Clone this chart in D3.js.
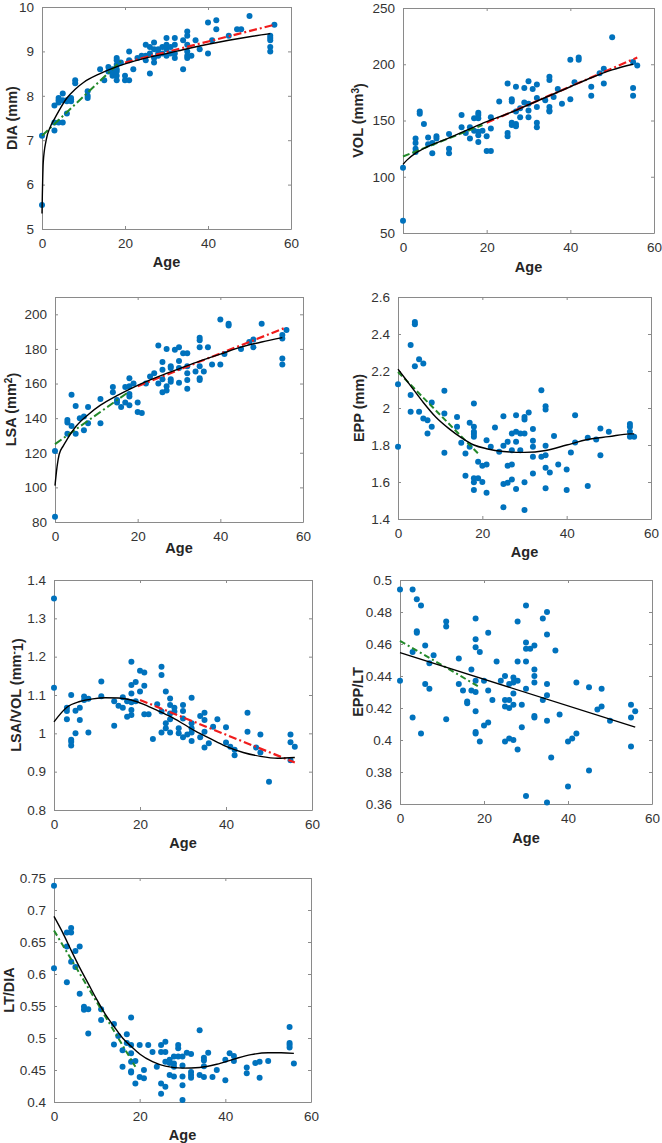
<!DOCTYPE html>
<html><head><meta charset="utf-8">
<script src="https://cdn.jsdelivr.net/npm/d3@7"></script>
<style>
html,body{margin:0;padding:0;background:#fff;}
text{font-family:"Liberation Sans",Arial,Helvetica,sans-serif;}
</style></head>
<body><svg id="c" width="662" height="1143"></svg>
<script>
// ---------------- DATA ----------------
const xTicks = [0, 20, 40, 60];

// DIA (mm)
const diaPoints = [[0,5.54],[0,7.1],[3,7.22],[3,7.78],[3,7.4],[4,7.4],[4,7.9],[4,7.95],[4,7.85],[5,8.05],[5,7.4],[5,7.9],[6,7.6],[6,7.9],[6,7.88],[7,7.95],[7,7.88],[7,7.92],[8,8.35],[8,8.28],[11,8.1],[11,8.0],[11,7.95],[14,8.6],[15,8.35],[16,8.65],[16,8.55],[17,8.6],[17,8.45],[17,8.5],[18,8.85],[18,8.8],[18,8.7],[18,8.55],[18,8.45],[18,8.35],[18,8.6],[19,8.75],[20,8.35],[20,8.45],[21,9.0],[21,8.35],[21,8.8],[22,8.6],[23,8.85],[24,8.9],[25,9.15],[25,8.9],[25,8.8],[26,9.1],[26,8.95],[26,8.5],[27,9.2],[27,9.05],[27,8.75],[27,8.85],[28,9.05],[28,8.9],[28,8.95],[29,9.1],[29,8.95],[30,9.3],[30,9.15],[30,9.05],[30,8.9],[31,9.1],[31,8.95],[32,9.3],[32,9.15],[32,8.95],[32,8.85],[34,9.25],[34,8.6],[35,9.45],[35,9.35],[35,9.15],[35,9.0],[35,8.9],[35,8.85],[36,8.9],[37,9.25],[38,9.05],[40,9.65],[40,8.95],[41,9.25],[42,9.7],[42,9.5],[45,9.35],[47,9.5],[48,9.5],[50,9.8],[55,9.35],[55,9.3],[55,9.25],[55,9.1],[55,9.0],[56,9.6]];
const diaFit = [[0,5.35],[0.3,6.5],[1,7.0],[2,7.3],[3,7.48],[4,7.65],[6,7.95],[8,8.15],[10,8.3],[14,8.5],[20,8.72],[25,8.85],[30,8.95],[35,9.06],[40,9.16],[45,9.25],[50,9.33],[55,9.4]];
const diaGreen = [[0,7.1],[19,8.78]];
const diaRed = [[20,8.75],[56,9.6]];
const diaTicks = [5,6,7,8,9,10];

// VOL (mm3)
const volPoints = [[0,108],[0,61],[3,134],[3,130],[3,125],[3,122],[4,158],[4,156],[5,147],[6,135],[6,129],[7,130],[7,121],[8,136],[8,134],[11,138],[11,125],[11,121],[14,155],[14,144],[15,139],[16,134],[16,144],[17,152],[17,141],[18,157],[18,155],[18,152],[18,140],[18,137],[18,131],[19,141],[20,136],[20,123],[21,123],[21,153],[21,143],[23,167],[25,183],[25,139],[25,136],[26,169],[26,167],[26,146],[26,148],[27,158],[27,147],[27,145],[27,180],[28,153],[28,161],[29,179],[29,166],[30,185],[30,165],[30,153],[30,159],[31,178],[32,182],[32,170],[32,162],[32,148],[32,144],[34,168],[35,189],[35,186],[35,162],[35,159],[35,158],[36,171],[37,178],[38,165],[40,204],[40,169],[41,184],[42,206],[42,204],[45,180],[45,172],[47,192],[48,196],[48,183],[50,224],[55,202],[55,179],[55,172],[56,199]];
const volFit = [[0,111],[1,115],[3,121],[6,127],[10,133],[15,141],[20,149],[25,156],[30,164],[35,172],[40,180],[45,188],[50,195],[55,200]];
const volGreen = [[0,118],[19,146]];
const volRed = [[20,148],[56,206]];
const volTicks = [50,100,150,200,250];

// LSA (mm2)
const lsaPoints = [[0,83],[0,121],[3,139],[3,137.5],[3,131],[4,153.5],[4,135.5],[5,147],[5,131],[6,140],[7,133],[7,141],[8,146.5],[8,137],[11,151],[11,137],[14,158],[14,155],[15,150.5],[15,149],[16,146.5],[17,158],[17,149],[18,163],[18,154],[18,152.5],[18,147.5],[18,158.5],[19,160],[20,149],[20,143.5],[21,143],[22,160],[23,164],[24,166],[25,182],[25,160],[26,172.5],[26,168],[26,162.5],[26,155],[27,180],[27,158.5],[27,156],[28,170],[28,162.5],[28,161],[28,169],[29,179.5],[30,181],[30,173],[30,160.5],[30,169],[31,177.5],[32,177.5],[32,170],[32,166],[32,162],[32,157],[34,167],[35,186.5],[35,185],[35,181],[35,170],[35,163],[35,162],[36,167],[37,181],[38,171],[40,197],[40,171],[41,177],[42,194.5],[42,193.5],[45,180],[47,184],[48,185.5],[48,181],[50,194.5],[55,186],[55,188],[55,174.5],[55,171],[56,191]];
const lsaFit = [[0,101],[0.5,112],[1,119],[2,124],[3,128],[5,135],[8,142],[11,147.5],[15,153],[20,159],[25,164],[30,168.5],[35,173],[40,177],[45,181],[50,184],[55,186.5]];
const lsaGreen = [[0,125],[18,155.5]];
const lsaRed = [[20,158.5],[56,192.5]];
const lsaTicks = [80,100,120,140,160,180,200];

// EPP (mm)
const eppPoints = [[0,2.129],[0,1.79],[3,2.34],[3,2.07],[3,1.98],[4,2.465],[4,2.453],[4,2.226],[5,2.264],[5,1.98],[6,2.24],[6,1.943],[7,1.934],[7,1.862],[8,2.03],[8,1.898],[11,2.093],[11,1.97],[11,1.758],[14,1.952],[14,1.898],[15,1.812],[16,1.754],[16,1.634],[17,1.92],[17,1.79],[18,2.024],[18,1.898],[18,1.871],[18,1.859],[18,1.844],[18,1.62],[18,1.598],[18,1.557],[19,1.71],[19,1.62],[20,1.688],[20,1.6],[21,1.826],[21,1.695],[21,1.542],[22,1.79],[23,1.895],[24,1.763],[25,1.956],[25,1.796],[25,1.589],[25,1.463],[26,1.817],[26,1.688],[26,1.596],[27,1.862],[27,1.772],[27,1.695],[27,1.614],[28,1.961],[28,1.871],[28,1.817],[28,1.562],[29,1.862],[29,1.772],[30,1.952],[30,1.938],[30,1.862],[30,1.598],[30,1.449],[31,1.976],[32,1.886],[32,1.823],[32,1.79],[32,1.736],[32,1.646],[34,2.096],[34,1.736],[35,2.01],[35,1.992],[35,1.796],[35,1.745],[35,1.677],[35,1.566],[36,1.652],[37,1.848],[38,1.695],[40,1.668],[40,1.557],[41,1.76],[42,1.961],[42,1.814],[45,1.578],[45,1.839],[47,1.83],[48,1.889],[48,1.745],[50,1.871],[55,1.913],[55,1.898],[55,1.871],[55,1.844],[56,1.844]];
const eppFit = [[0,2.21],[3,2.12],[6,2.03],[9,1.95],[12,1.89],[15,1.84],[18,1.8],[21,1.78],[25,1.765],[30,1.76],[35,1.77],[40,1.8],[45,1.83],[50,1.845],[55,1.86],[56,1.86]];
const eppGreen = [[0,2.195],[19,1.754]];
const eppTicks = [1.4,1.6,1.8,2,2.2,2.4,2.6];

// LSA/VOL (mm^-1)
const ratioPoints = [[0,1.352],[0,1.119],[3,1.067],[3,1.058],[3,1.037],[4,1.1],[4,0.983],[4,0.978],[4,0.968],[5,1.059],[5,1.0],[6,1.067],[6,1.035],[7,1.096],[7,1.087],[8,1.09],[8,1.002],[11,1.135],[11,1.097],[14,1.084],[14,1.02],[15,1.072],[16,1.067],[16,1.094],[17,1.084],[17,1.043],[18,1.187],[18,1.126],[18,1.104],[18,1.081],[18,1.061],[18,1.048],[19,1.134],[19,1.084],[20,1.163],[20,1.109],[21,1.159],[21,1.124],[21,1.05],[22,1.05],[23,0.985],[24,1.076],[25,1.174],[25,1.152],[25,1.057],[25,1.002],[26,1.109],[26,1.026],[26,1.013],[27,1.091],[27,1.074],[27,1.052],[27,1.037],[27,1.002],[28,1.067],[28,1.057],[29,1.013],[29,1.0],[30,1.074],[30,1.058],[30,1.039],[30,0.99],[31,0.997],[32,1.093],[32,1.026],[32,1.013],[32,1.002],[32,0.98],[34,1.045],[34,0.99],[35,1.054],[35,1.035],[35,1.004],[35,0.963],[36,0.974],[37,1.017],[38,1.037],[40,1.016],[40,0.976],[41,0.965],[42,0.957],[42,0.943],[45,1.054],[45,1.004],[47,0.963],[48,0.997],[48,0.95],[50,0.874],[55,0.997],[55,0.977],[55,0.93],[56,0.965]];
const ratioFit = [[0,1.03],[3,1.068],[6,1.083],[9,1.09],[12,1.093],[15,1.092],[18,1.087],[21,1.075],[24,1.06],[27,1.044],[30,1.025],[33,1.005],[36,0.988],[40,0.966],[44,0.95],[48,0.94],[52,0.935],[56,0.937]];
const ratioRed = [[20,1.087],[56,0.924]];
const ratioTicks = [0.8,0.9,1,1.1,1.2,1.3,1.4];

// EPP/LT
const eppltPoints = [[0,0.494],[0,0.437],[3,0.494],[3,0.455],[3,0.414],[4,0.488],[4,0.468],[4,0.467],[5,0.484],[5,0.404],[6,0.459],[6,0.435],[7,0.448],[7,0.432],[8,0.453],[11,0.474],[11,0.471],[11,0.413],[14,0.451],[14,0.435],[15,0.431],[16,0.424],[16,0.423],[17,0.444],[17,0.431],[18,0.476],[18,0.463],[18,0.458],[18,0.437],[18,0.43],[18,0.418],[18,0.405],[18,0.404],[19,0.455],[19,0.399],[20,0.437],[20,0.409],[21,0.467],[21,0.431],[21,0.411],[22,0.425],[23,0.449],[24,0.437],[25,0.44],[25,0.425],[25,0.421],[25,0.399],[26,0.435],[26,0.425],[26,0.42],[26,0.401],[27,0.439],[27,0.436],[27,0.429],[27,0.422],[27,0.4],[28,0.474],[28,0.449],[28,0.437],[28,0.394],[29,0.422],[29,0.408],[30,0.484],[30,0.461],[30,0.457],[30,0.449],[30,0.432],[30,0.365],[31,0.457],[32,0.459],[32,0.444],[32,0.44],[32,0.436],[32,0.415],[32,0.414],[34,0.476],[34,0.425],[35,0.48],[35,0.466],[35,0.435],[35,0.428],[35,0.412],[35,0.361],[36,0.389],[37,0.456],[38,0.416],[40,0.399],[40,0.371],[41,0.401],[42,0.404],[42,0.436],[45,0.433],[45,0.381],[47,0.419],[48,0.432],[48,0.421],[50,0.412],[55,0.422],[55,0.414],[55,0.396],[56,0.418]];
const eppltFit = [[0,0.4546],[56,0.408]];
const eppltGreen = [[0,0.462],[19,0.433]];
const eppltTicks = [0.36,0.38,0.4,0.42,0.44,0.46,0.48,0.5];

// LT/DIA
const ltdiaPoints = [[0,0.738],[0,0.609],[3,0.665],[3,0.643],[3,0.587],[4,0.672],[4,0.665],[4,0.619],[5,0.636],[5,0.611],[6,0.643],[6,0.569],[7,0.549],[7,0.544],[8,0.545],[8,0.507],[11,0.545],[11,0.528],[14,0.522],[14,0.49],[15,0.503],[16,0.481],[16,0.455],[17,0.506],[17,0.492],[18,0.532],[18,0.489],[18,0.476],[18,0.463],[18,0.448],[18,0.446],[19,0.464],[19,0.429],[20,0.489],[20,0.439],[21,0.45],[21,0.437],[22,0.489],[23,0.478],[24,0.455],[25,0.489],[25,0.478],[25,0.429],[25,0.413],[26,0.494],[26,0.478],[26,0.463],[26,0.424],[27,0.466],[27,0.461],[27,0.442],[28,0.471],[28,0.46],[28,0.455],[28,0.44],[29,0.489],[29,0.484],[29,0.471],[30,0.471],[30,0.457],[30,0.44],[30,0.426],[30,0.403],[31,0.477],[32,0.475],[32,0.447],[32,0.442],[32,0.438],[34,0.512],[34,0.442],[35,0.469],[35,0.465],[35,0.456],[35,0.439],[36,0.477],[37,0.439],[38,0.45],[40,0.434],[40,0.466],[41,0.476],[42,0.472],[42,0.464],[45,0.454],[45,0.445],[47,0.461],[48,0.463],[48,0.438],[50,0.464],[55,0.517],[55,0.492],[55,0.489],[55,0.485],[56,0.46]];
const ltdiaFit = [[0,0.69],[2,0.665],[4,0.637],[6,0.61],[8,0.585],[10,0.56],[12,0.537],[14,0.518],[16,0.5],[18,0.487],[20,0.475],[23,0.463],[26,0.456],[30,0.453],[34,0.454],[38,0.459],[42,0.467],[46,0.474],[50,0.477],[53,0.477],[56,0.476]];
const ltdiaGreen = [[0,0.668],[19,0.455]];
const ltdiaTicks = [0.4,0.45,0.5,0.55,0.6,0.65,0.7,0.75];

// ---------------- PANELS ----------------
const panels = [
  {label:["DIA (mm)"], pts:diaPoints, fit:diaFit, green:diaGreen, red:diaRed, yd:[5,10], yt:diaTicks,
   box:[42,291,7,229], ylx:17, xly:267, greenDash:"8,3,2,3"},
  {label:["VOL (mm","3",")"], pts:volPoints, fit:volFit, green:volGreen, red:volRed, yd:[50,250], yt:volTicks,
   box:[403,654,8,233], ylx:363, xly:272, greenDash:"7,3"},
  {label:["LSA (mm","2",")"], pts:lsaPoints, fit:lsaFit, green:lsaGreen, red:lsaRed, yd:[80,210], yt:lsaTicks,
   box:[55,303,297,522], ylx:16, xly:553, greenDash:"8,3,2,3"},
  {label:["EPP (mm)"], pts:eppPoints, fit:eppFit, green:eppGreen, red:null, yd:[1.4,2.6], yt:eppTicks,
   box:[398,651,297,519], ylx:364, xly:557, greenDash:"6,3"},
  {label:["LSA/VOL (mm","-","1)"], pts:ratioPoints, fit:ratioFit, green:null, red:ratioRed, yd:[0.8,1.4], yt:ratioTicks,
   box:[54,312,580,810], ylx:21, xly:848, greenDash:"6,3"},
  {label:["EPP/LT"], pts:eppltPoints, fit:eppltFit, green:eppltGreen, red:null, yd:[0.36,0.5], yt:eppltTicks,
   box:[400,652,580,804], ylx:363, xly:843, greenDash:"6,3,2,3"},
  {label:["LT/DIA"], pts:ltdiaPoints, fit:ltdiaFit, green:ltdiaGreen, red:null, yd:[0.4,0.75], yt:ltdiaTicks,
   box:[54,311,878,1102], ylx:14, xly:1140, greenDash:"6,3,2,3"}
];

const svg = d3.select("#c");
const fmt = v => String(+v.toFixed(3));
const TICK = 3;

panels.forEach(p => {
  const [L,R,T,B] = p.box;
  const x = d3.scaleLinear().domain([0,60]).range([L,R]);
  const y = d3.scaleLinear().domain(p.yd).range([B,T]);
  const g = svg.append("g");

  // axes (MATLAB style: ticks inward, box on)
  const axL = d3.axisLeft(y).tickValues(p.yt).tickFormat(fmt).tickSizeInner(-TICK).tickSizeOuter(0).tickPadding(5+TICK);
  const axB = d3.axisBottom(x).tickValues(xTicks).tickFormat(fmt).tickSizeInner(-TICK).tickSizeOuter(0).tickPadding(6+TICK);
  const axR = d3.axisRight(y).tickValues(p.yt).tickFormat("").tickSizeInner(-TICK).tickSizeOuter(0);
  const axT = d3.axisTop(x).tickValues(xTicks).tickFormat("").tickSizeInner(-TICK).tickSizeOuter(0);
  [[axL,`translate(${L},0)`],[axB,`translate(0,${B})`],[axR,`translate(${R},0)`],[axT,`translate(0,${T})`]].forEach(([ax,tr])=>{
    const a = g.append("g").attr("transform",tr).call(ax);
    a.select(".domain").attr("stroke","#8a8a8a").attr("stroke-width",1);
    a.selectAll(".tick line").attr("stroke","#8a8a8a");
    a.selectAll(".tick text").attr("fill","#333").attr("font-size","13.5px")
      .attr("font-family",'"Liberation Sans",Arial,sans-serif');
  });

  // points
  g.append("g").selectAll("circle").data(p.pts).join("circle")
    .attr("cx",d=>x(d[0])).attr("cy",d=>y(d[1])).attr("r",3).attr("fill","#0072BD");

  const line = d3.line().x(d=>x(d[0])).y(d=>y(d[1]));
  if (p.green) g.append("path").attr("d",line(p.green)).attr("fill","none")
      .attr("stroke","#23892a").attr("stroke-width",2).attr("stroke-dasharray",p.greenDash);
  if (p.red) g.append("path").attr("d",line(p.red)).attr("fill","none")
      .attr("stroke","#f01c1c").attr("stroke-width",2.2).attr("stroke-dasharray","8,3,2,3");
  g.append("path").attr("d",line.curve(d3.curveMonotoneX)(p.fit)).attr("fill","none")
      .attr("stroke","#000").attr("stroke-width",1.4);

  // y label
  const yl = g.append("text").attr("transform",`translate(${p.ylx},${(T+B)/2}) rotate(-90)`)
    .attr("text-anchor","middle").attr("font-weight","bold").attr("font-size","14.5px").attr("fill","#262626");
  if (p.label.length === 1) {
    yl.text(p.label[0]);
  } else {
    yl.append("tspan").text(p.label[0]);
    yl.append("tspan").attr("dy","-0.45em").attr("font-size","10px").text(p.label[1]);
    yl.append("tspan").attr("dy","0.45em").text(p.label[2]);
  }
  // x label
  g.append("text").attr("x",(L+R)/2).attr("y",p.xly).attr("text-anchor","middle")
    .attr("font-weight","bold").attr("font-size","14.5px").attr("fill","#262626").text("Age");
});
</script></body></html>
